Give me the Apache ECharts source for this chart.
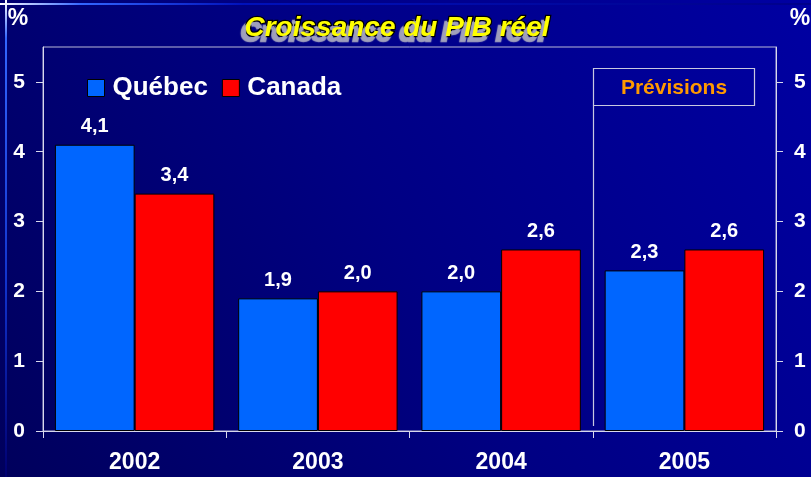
<!DOCTYPE html>
<html><head><meta charset="utf-8">
<script src="https://cdn.jsdelivr.net/npm/echarts@6/dist/echarts.min.js"></script>
<style>html,body{margin:0;padding:0;background:#000070}#c{width:811px;height:477px}</style>
</head><body><div id="c"></div>
<script>
var categories = ['2002', '2003', '2004', '2005'];
var quebec = [4.1, 1.9, 2.0, 2.3];
var canada = [3.4, 2.0, 2.6, 2.6];
var yTicks = [0, 1, 2, 3, 4, 5];
var titleText = 'Croissance du PIB réel';
var forecastText = 'Prévisions';

var FONT = '"Liberation Sans", Arial, sans-serif';
var chart = echarts.init(document.getElementById('c'), null, {renderer: 'canvas'});
function fmt(p) { return p.value.toFixed(1).replace('.', ','); }
var labelCfg = {show: true, position: 'top', distance: 8, color: '#ffffff', fontFamily: FONT, fontWeight: 'bold', fontSize: 20, formatter: fmt};
var yAxisBase = {
  type: 'value', min: 0, max: 5.5, interval: 1,
  splitLine: {show: false},
  axisLine: {show: true, lineStyle: {color: '#d8d8ec', width: 1}},
  axisTick: {show: true, length: 7, customValues: yTicks, lineStyle: {color: '#d8d8ec'}},
  axisLabel: {customValues: yTicks, margin: 18, color: '#ffffff', fontFamily: FONT, fontWeight: 'bold', fontSize: 21}
};
var option = {
  backgroundColor: {type: 'linear', x: 0, y: 1, x2: 1, y2: 0, colorStops: [{offset: 0, color: '#00005c'}, {offset: 0.5, color: '#000084'}, {offset: 1, color: '#0000a2'}]},
  animation: false,
  title: {text: titleText, left: 392, textAlign: 'center', top: 9,
    textStyle: {color: '#ffff00', fontFamily: FONT, fontStyle: 'italic', fontWeight: 'bold', fontSize: 28,
      textBorderColor: '#000000', textBorderWidth: 2.5, textShadowColor: '#a0a0bc', textShadowOffsetX: -4, textShadowOffsetY: 5, textShadowBlur: 1}},
  legend: {left: 82, top: 70, itemWidth: 17, itemHeight: 17, itemGap: 14, icon: 'rect',
    textStyle: {color: '#ffffff', fontFamily: FONT, fontWeight: 'bold', fontSize: 26, padding: [0, 0, 0, 3]},
    data: [{name: 'Québec', itemStyle: {borderColor: '#000', borderWidth: 1}}, {name: 'Canada', itemStyle: {borderColor: '#000', borderWidth: 1}}]},
  grid: {left: 43, right: 35, top: 47, bottom: 46, show: true, borderColor: '#b8b8d8', borderWidth: 1, backgroundColor: 'transparent'},
  xAxis: {type: 'category', data: categories,
    axisLine: {lineStyle: {color: '#d8d8ec'}},
    axisTick: {show: true, length: 7, lineStyle: {color: '#d8d8ec'}},
    axisLabel: {margin: 20, color: '#ffffff', fontFamily: FONT, fontWeight: 'bold', fontSize: 23}},
  yAxis: [Object.assign({position: 'left'}, yAxisBase), Object.assign({position: 'right'}, yAxisBase)],
  series: [
    {name: 'Québec', type: 'bar', data: quebec, barGap: '0%', barCategoryGap: '13%',
      itemStyle: {color: '#0066ff', borderColor: '#000000', borderWidth: 1}, label: labelCfg},
    {name: 'Canada', type: 'bar', data: canada, barGap: '0%', barCategoryGap: '13%',
      itemStyle: {color: '#ff0000', borderColor: '#000000', borderWidth: 1}, label: labelCfg}
  ]
};
chart.setOption(option);

// annotation: forecast box aligned to the boundary between last two categories
var x4 = chart.convertToPixel({xAxisIndex: 0}, categories[2]);
var x5 = chart.convertToPixel({xAxisIndex: 0}, categories[3]);
var xb = Math.round((x4 + x5) / 2) + 0.5;
var y0 = chart.convertToPixel({yAxisIndex: 0}, 0);
var boxTop = 68.5, boxBot = 105.5, boxRight = 754.5;
chart.setOption({graphic: [
  {type: 'rect', shape: {x: 5, y: 0, width: 2, height: 477}, z: 0,
    style: {fill: {type: 'linear', x: 0, y: 0, x2: 0, y2: 1, colorStops: [{offset: 0, color: '#ffffff'}, {offset: 0.08, color: '#3366ff'}, {offset: 0.6, color: '#1133cc'}, {offset: 1, color: '#000070'}]}}},
  {type: 'rect', shape: {x: 0, y: 3, width: 811, height: 2}, z: 0,
    style: {fill: {type: 'linear', x: 0, y: 0, x2: 1, y2: 0, colorStops: [{offset: 0, color: '#ffffff'}, {offset: 0.1, color: '#3366ff'}, {offset: 0.3, color: '#0011bb'}, {offset: 1, color: '#00008a'}]}}},
  {type: 'rect', shape: {x: xb, y: boxTop, width: boxRight - xb, height: boxBot - boxTop}, z: 5,
    style: {fill: 'transparent', stroke: '#c8c8e0', lineWidth: 1.2}},
  {type: 'line', shape: {x1: xb, y1: boxBot, x2: xb, y2: y0 - 5}, z: 5,
    style: {stroke: '#c8c8e0', lineWidth: 1.2}},
  {type: 'text', x: (xb + boxRight) / 2, y: (boxTop + boxBot) / 2 + 1, z: 6,
    style: {text: forecastText, fill: '#ff9900', font: 'bold 21px ' + FONT, textAlign: 'center', textVerticalAlign: 'middle'}},
  {type: 'text', x: 18, y: 19, z: 6,
    style: {text: '%', fill: '#ffffff', font: 'bold 23px ' + FONT, textAlign: 'center', textVerticalAlign: 'middle'}},
  {type: 'text', x: 800, y: 19, z: 6,
    style: {text: '%', fill: '#ffffff', font: 'bold 23px ' + FONT, textAlign: 'center', textVerticalAlign: 'middle'}}
]});
</script></body></html>
